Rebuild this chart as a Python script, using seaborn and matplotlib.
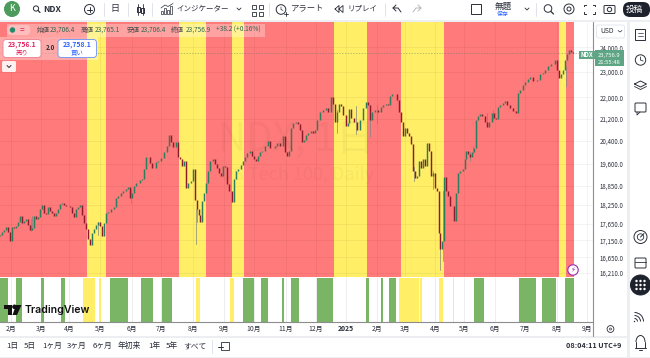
import matplotlib
matplotlib.use('Agg')
import matplotlib.pyplot as plt
from matplotlib.patches import Rectangle, Circle, FancyBboxPatch
import pandas as pd
import seaborn as sns

# x unit is days counted from the first February tick
bar_day = [-11,-9,-7,-5,-3,-1,1,3,5,7,9,11,13,15,17,19,21,23,25,27,29,31,33,35,37,39,41,43,45,47,49,51,53,55,57,59,61,63,65,67,69,71,73,75,77,79,81,83,85,87,89,91,93,95,97,100,103,105,107,110,112,115,117,119,121,123,125,129,131,133,135,137,139,141,143,145,147,150,153,156,158,160,162,165,167,169,171,173,175,177,180,182,184,186,188,189,191,193,195,197,199,202,204,206,208,210,212,214,216,218,221,223,225,227,230,232,234,236,239,241,243,245,247,249,251,254,257,259,262,264,266,269,272,274,276,278,280,282,285,287,289,291,293,295,297,300,302,304,306,309,312,315,317,320,322,324,326,328,330,332,335,337,338,340,343,346,349,352,355,357,359,361,364,367,370,372,375,377,379,381,384,386,388,390,392,394,396,398,400,402,404,406,408,410,412,414,416,418,420,422,424,426,428,429,431,433,435,437,439,441,443,445,447,449,452,454,455,457,459,461,463,465,467,469,471,474,476,478,481,483,485,487,489,492,494,496,499,502,505,507,509,512,514,517,519,522,526,529,532,534,537,540,544,546,548,550,552,554,556,558,560,562]
bar_close = [17315,17405,17465,17558,17405,17133,17558,17527,17590,17712,17899,17680,17743,17805,17620,17465,17527,17899,17805,17868,18119,18247,17993,17962,18183,18056,17993,17899,17993,18119,18279,18290,18247,18215,18200,18183,17993,17868,18119,18183,18247,17930,17680,17496,17193,17015,17375,17496,17620,17712,17590,17285,17680,17993,18025,18119,18183,18472,18537,18634,18699,18765,18830,18472,18634,18863,18963,19062,19095,19430,19843,19843,19637,19466,19440,19672,19706,19810,19984,20199,20587,20337,20164,20337,19843,19775,19533,19706,18798,18963,19029,19430,18408,18119,17930,17712,18375,18634,18963,19364,19706,19775,19602,19466,19298,19197,19533,19500,18930,18699,18343,19095,19364,19430,19568,19706,19843,19949,20053,19879,19775,19706,19879,19984,20053,20199,20384,20124,20124,20199,20310,20199,20550,19984,19879,20053,20840,21021,21060,20983,20768,20337,20407,20587,20660,20731,20660,20768,21134,21430,21507,21583,21430,22004,21738,21060,21430,21738,21660,21320,20945,21021,21545,21208,21060,20768,21134,21583,21810,21700,21134,21430,21507,21430,21622,21700,21738,21700,22043,22120,22120,21887,21430,21060,20550,20840,20660,20550,20264,19364,19130,19197,19706,19466,19775,19533,20310,20053,19197,19298,18798,18699,17375,16895,17133,19162,18699,18537,18215,18215,17743,18634,19298,19364,19430,19775,20053,19914,19843,19984,20124,21134,21282,21353,21282,21060,20877,21060,21392,21208,21170,21622,21700,21776,21849,21700,21583,21468,21392,22158,22273,22470,22588,22706,22785,22627,22666,22906,22946,23066,23226,23307,23473,23066,22746,22906,23066,23473,23716,23887,23810,23757]
first_open = 17280

# the longer shadows that stand out from the bodies
wick_day = [20,21,87,120,185,186,326,345,359,366,403,422,429,432,459,462,476,482,555]
wick_low = [17440,17450,17300,18310,17040,17700,20670,20620,20520,21050,19000,18760,16300,16540,19700,19950,20930,21150,22450]
wick_high = [17800,17900,17720,18740,18100,18300,21500,21660,21700,21700,19500,19340,17300,18700,20000,20200,21400,21500,23200]

month_day = [0,30,58,89,121,150,182,213,243,275,305,335,366,394,424,453,484,514,546,576]
month_label = ['2月','3月','4月','5月','6月','7月','8月','9月','10月','11月','12月','2025','2月','3月','4月','5月','6月','7月','8月','9月']
price_tick = [24000,23000,22000,21200,20400,19600,18850,18250,17650,17150,16650,16210]

yellow_start = [76.3,168,220.7,323,390,548]
yellow_end = [95,195,233,356,433.3,554.7]
red_start = -11
red_end = 563

signal_green_start = [-11,4.7,30,50,99,130,151.3,231.7,250,271.3,280,305.7,354.7,370.3,378.3,463,508.3,531.3,553.7]
signal_green_end = [-2.7,11.3,33,54,117,142.3,161,243,257,273,288,321.7,358.3,371.7,385.3,473,525,544.7,563.3]
signal_yellow_start = [72,88,185,219,388,409,428,442.3]
signal_yellow_end = [83.7,90.3,189,223,408,410.7,432,443.3]

RED = '#ff7a7a'
YELLOW = '#ffee66'
GREEN = '#79b565'
UP = '#2c7d5c'
DOWN = '#8c1c2c'
INK = '#2a2e39'

sns.set_theme(style='white')
plt.rcParams['font.family'] = ['Noto Sans CJK JP', 'DejaVu Sans']

W, H = 650, 358
fig = plt.figure(figsize=(W / 100, H / 100), dpi=100, facecolor='white')
ax = fig.add_axes([0, (H - 277) / H, 593 / W, 255 / H])
strip = fig.add_axes([0, (H - 322) / H, 593 / W, 44 / H], sharex=ax)

# regime background
ax.axvspan(red_start, red_end, color=RED, lw=0, zorder=0)
for a, b in zip(yellow_start, yellow_end):
    ax.axvspan(a, b, color=YELLOW, lw=0, zorder=0.5)

opens = [first_open] + bar_close[:-1]
rows = []
for i, (d, o, c) in enumerate(zip(bar_day, opens, bar_close)):
    side = 'up' if c >= o else 'down'
    rows.append({'bar': i, 'day': d, 'price': o, 'side': side})
    rows.append({'bar': i, 'day': d, 'price': c, 'side': side})
candles = pd.DataFrame(rows)

wicks = pd.DataFrame({'bar': list(range(len(wick_day))) * 2, 'day': wick_day * 2,
                      'price': wick_low + wick_high})

sns.lineplot(data=wicks, x='day', y='price', units='bar', estimator=None, color='#7d8580',
             alpha=0.7, lw=0.7, ax=ax, zorder=3, legend=False)
sns.lineplot(data=candles, x='day', y='price', units='bar', hue='side', estimator=None,
             palette={'up': UP, 'down': DOWN}, lw=1.05, ax=ax, zorder=4, legend=False,
             solid_capstyle='butt')

ax.set_yscale('log')
ax.set_xlim(-11, 582)
ax.set_ylim(16089, 25081)
ax.minorticks_off()
ax.set_yticks(price_tick)
ax.set_yticklabels([f'{p:,.1f}' for p in price_tick], fontsize=4.4, color=INK)
ax.yaxis.tick_right()
ax.tick_params(axis='y', length=0, pad=4.5)
ax.tick_params(axis='x', length=0, labelbottom=False)
ax.set_xticks(month_day)
ax.set_xlabel('')
ax.set_ylabel('')
ax.grid(True, color='#000000', alpha=0.045, lw=0.7, zorder=1)
ax.set_axisbelow(True)
for s in ax.spines.values():
    s.set_visible(False)
ax.axhline(23757, color='#5c7a66', lw=0.5, ls=(0, (2, 2)), alpha=0.6, zorder=2)
ax.text(0.5, 0.537, 'NDX, 1日', transform=ax.transAxes, ha='center', va='center', fontsize=28,
        color='black', alpha=0.03, zorder=2)
ax.text(0.5, 0.40, 'US Tech 100, Daily', transform=ax.transAxes, ha='center', va='center',
        fontsize=13, color='black', alpha=0.03, zorder=2)

# signal strip
for a, b in zip(signal_green_start, signal_green_end):
    strip.axvspan(a, b, color=GREEN, lw=0, zorder=2)
for a, b in zip(signal_yellow_start, signal_yellow_end):
    strip.axvspan(a, b, color=YELLOW, lw=0, zorder=2)
strip.set_ylim(0, 1)
strip.set_yticks([])
strip.set_xticks(month_day)
strip.set_xticklabels(month_label, fontsize=4.9, color=INK)
strip.get_xticklabels()[11].set_fontweight('bold')
strip.tick_params(axis='x', length=0, pad=2.2, labelbottom=True)
strip.grid(True, axis='x', color='#000000', alpha=0.07, lw=0.7, zorder=1)
strip.set_axisbelow(True)
for s in strip.spines.values():
    s.set_visible(False)
strip.spines['bottom'].set_visible(True)
strip.spines['bottom'].set_color('#8d8d8d')
strip.spines['bottom'].set_linewidth(0.8)

# screen furniture in pixel coordinates
ui = fig.add_axes([0, 0, 1, 1], zorder=10)
ui.set_xlim(0, W)
ui.set_ylim(H, 0)
ui.axis('off')
ui.patch.set_alpha(0)


def label(x, y, s, size=6, color=INK, ha='left', weight='normal'):
    ui.text(x, y, s, fontsize=size, color=color, ha=ha, va='center', fontweight=weight)


def box(x0, y0, x1, y1, fc, ec='none', lw=0.7, alpha=1, round_=0):
    if round_:
        p = FancyBboxPatch((x0 + round_, y0 + round_), x1 - x0 - 2 * round_, y1 - y0 - 2 * round_,
                           boxstyle=f'round,pad={round_}', fc=fc, ec=ec, lw=lw, alpha=alpha)
    else:
        p = Rectangle((x0, y0), x1 - x0, y1 - y0, fc=fc, ec=ec, lw=lw, alpha=alpha)
    ui.add_patch(p)


def ring(x, y, r, ec=INK, fc='none', lw=0.7):
    ui.add_patch(Circle((x, y), r, fc=fc, ec=ec, lw=lw))


def seg(xs, ys, color=INK, lw=0.7):
    ui.plot(xs, ys, color=color, lw=lw, solid_capstyle='round')


# frame gaps
GAP = '#eceef2'
box(0, 19.5, W, 22, GAP)
box(0, 335.5, 627, 337.5, GAP)
box(0, 356.5, W, 358, GAP)
box(627, 20, 630, H, GAP)
seg([593, 593], [22, 335.5], color='#8f8f8f', lw=0.8)

# top bar
ring(12, 9, 7.5, ec='#4c9a5c', fc='#4c9a5c')
label(12, 8.6, 'K', 6.5, 'white', 'center')
ring(36, 8.5, 2.6)
seg([38, 40], [10.5, 12.5], lw=0.9)
label(43, 9, 'NDX', 6.2, INK, weight='bold')
ring(89.5, 9.5, 5)
seg([87, 92], [9.5, 9.5])
seg([89.5, 89.5], [7, 12])
seg([103.5, 103.5], [3, 16], color='#e0e3eb')
label(115, 8.5, '日', 6.5, ha='center')
seg([128, 128], [3, 16], color='#e0e3eb')
seg([138, 138], [4, 15], lw=0.6)
box(136.5, 6.5, 139.5, 12, 'white', INK)
seg([142.5, 142.5], [4, 15], lw=0.6)
box(141, 7.5, 144, 12.5, 'white', INK)
seg([152, 152], [3, 16], color='#e0e3eb')
for x0, h in [(161, 3), (164, 6), (167, 4), (170, 8)]:
    box(x0, 14 - h, x0 + 2, 14, 'white', INK, 0.5)
seg([161, 165, 168, 173], [8, 5, 6.5, 3.5], lw=0.5)
label(176, 8.5, 'インジケーター', 5.4)
seg([237, 239, 241], [8, 10, 8], lw=0.6)
for gx in (252, 258.5):
    for gy in (5, 11.5):
        box(gx, gy, gx + 4, gy + 4, 'white', INK, 0.6)
seg([269, 269], [3, 16], color='#e0e3eb')
ring(281, 9.5, 4.8)
seg([281, 281, 283], [7, 9.5, 10.5], lw=0.5)
seg([284, 288], [14, 14], lw=0.6)
seg([286, 286], [12, 16], lw=0.6)
label(291, 8.5, 'アラート', 6)
seg([335, 339, 339, 335], [9, 5.5, 12.5, 9], lw=0.6)
seg([339, 343, 343, 339], [9, 5.5, 12.5, 9], lw=0.6)
label(347, 8.5, 'リプレイ', 5.4)
seg([384.5, 384.5], [3, 16], color='#e0e3eb')
seg([401, 398, 393, 396], [12, 8, 8, 5], lw=0.7)
seg([393, 396], [8, 11], lw=0.7)
seg([413, 416, 421, 418], [12, 8, 8, 5], color='#b2b5be')
seg([421, 418], [8, 11], color='#b2b5be')
box(470.5, 4, 481, 14, 'white', INK, 0.7)
label(503, 6, '無題', 6.2, ha='center')
label(503, 14.5, '保存', 4.2, '#2962ff', 'center')
seg([525, 527, 529], [8, 10, 8], lw=0.6)
seg([536, 536], [3, 16], color='#e0e3eb')
ring(548, 8.5, 3.8)
seg([551, 553.5], [11.5, 14], lw=0.9)
ring(569, 9, 5)
ring(569, 9, 2)
box(584, 4.5, 595, 14, 'white', INK, 0.7)
box(586.5, 3, 592.5, 15.5, 'white', 'none')
box(583, 7, 596, 11.5, 'white', 'none')
box(604, 5.5, 615, 13.5, 'white', INK, 0.7, round_=1)
ring(609.5, 9.5, 2.2)
box(623, 2, 650, 17, '#1e222d', round_=7)
label(634, 9, '投稿', 6.2, 'white', 'center')

# legend on the chart
box(7, 24, 265, 37, 'white', alpha=0.3)
box(0, 37, 98, 60, 'white', alpha=0.35)
box(7, 25, 30, 35, 'white', alpha=0.3, round_=4)
ring(12.5, 30, 2.2, ec='#1f8a6a', fc='#1f8a6a')
label(22, 29.6, '=', 6, '#e0245e', 'center')
legend_parts = [(37, '始値', '#4a4a4a'), (50, '23,706.4', '#2f6650'), (81, '高値', '#4a4a4a'), (95, '23,765.1', '#2f6650'),
                (127, '安値', '#4a4a4a'), (141, '23,706.4', '#2f6650'), (171, '終値', '#4a4a4a'), (186, '23,756.9', '#2f6650'),
                (216, '+38.2 (+0.16%)', '#2f6650')]
for x, s, c in legend_parts:
    label(x, 30, s, 4.7, c)
box(3, 39.5, 41, 57.5, 'white', '#f08a98', 0.7, round_=3)
label(22, 45, '23,756.1', 4.9, '#e0245e', 'center', 'bold')
label(22, 52.5, '売り', 4.6, '#e0245e', 'center')
label(50, 48, '2.0', 4.4, INK, 'center', 'bold')
box(58, 39.5, 96.5, 57.5, 'white', '#7f9cf0', 0.7, round_=3)
label(77, 45, '23,758.1', 4.9, '#2962ff', 'center', 'bold')
label(77, 52.5, '買い', 4.6, '#2962ff', 'center')
box(2, 61, 16, 72, '#fff0f0', round_=1.5)
seg([7, 9, 11], [65.5, 67.5, 65.5], lw=0.7)

# price scale extras
box(596.5, 25, 624.5, 38, 'white', '#e0e3eb', 0.6, round_=2)
label(600, 31, 'USD', 4.9)
seg([618, 620, 622], [30.5, 32, 30.5], lw=0.5)
box(579, 50.5, 595, 58.5, '#5ea585')
label(587, 54.4, 'NDX', 4.4, 'white', 'center', 'bold')
box(595, 50, 624, 66, '#5ea585')
label(609.5, 55, '23,756.9', 4.2, 'white', 'center')
label(609.5, 62.5, '21:55:48', 4.2, 'white', 'center')
ring(573, 270, 5.2, ec='#9c27b0', fc='white', lw=0.8)
label(573, 270, '⚡', 5, '#9c27b0', 'center')

# TradingView logo
box(4, 305, 12, 308.5, '#111111')
box(8, 305, 12, 315, '#111111')
ring(14.5, 306.8, 1.8, ec='#111111', fc='#111111')
ui.fill([16, 21.5, 17, 12.5], [305, 305, 315, 315], color='#111111', lw=0)
ui.text(24.5, 310, 'TradingView', fontsize=7.6, family='Inter', fontweight='semibold', color='#111111',
        ha='left', va='center')

# range selector
range_x = [6, 24, 42, 67, 93, 118, 148, 166, 183]
range_label = ['1日', '5日', '1ヶ月', '3ヶ月', '6ヶ月', '年初来', '1年', '5年', 'すべて']
for x, s in zip(range_x, range_label):
    label(x, 346, s, 5.6)
seg([211.5, 211.5], [340, 353], color='#e0e3eb')
box(220.5, 342, 229, 350, 'white', INK, 0.6)
seg([218, 223], [347, 347], lw=0.7)
label(621, 346, '08:04:11 UTC+9', 5.2, INK, 'right', 'bold')
ring(610.5, 329, 3.4, lw=0.6)
ring(610.5, 329, 1, lw=0.5)

# right toolbar
box(635, 29, 645, 40, 'white', INK, 0.7)
seg([637.5, 642.5], [32.5, 32.5], lw=0.5)
seg([637.5, 642.5], [35.5, 35.5], lw=0.5)
ring(640.5, 60, 5.2)
seg([640.5, 640.5, 643], [57, 60, 61], lw=0.6)
seg([634.5, 640.5, 646.5, 640.5, 634.5], [84, 81, 84, 87, 84], lw=0.7)
seg([634.5, 640.5, 646.5], [86.5, 89.5, 86.5], lw=0.6)
box(635, 103, 646, 112, 'white', INK, 0.7, round_=1)
seg([637, 637, 640], [112, 115, 112], lw=0.6)
ring(640.5, 237, 6.5)
ring(640.5, 237, 3.2, lw=0.6)
seg([640.5, 644], [237, 233.5], lw=0.7)
box(635, 258, 646, 268, 'white', INK, 0.7, round_=1)
seg([635, 646], [261.5, 261.5], lw=0.6)
ring(640.5, 285, 10, ec='#1e222d', fc='#1e222d')
for gx in (636.5, 640.5, 644.5):
    for gy in (281, 285, 289):
        ring(gx, gy, 1.2, ec='white', fc='white', lw=0)
for r in (3, 6, 9):
    ui.add_patch(matplotlib.patches.Arc((634.5, 321.5), 2 * r, 2 * r, theta1=270, theta2=360, ec=INK, lw=0.7))
ring(634.5, 321.5, 0.7, ec=INK, fc=INK, lw=0)
ui.add_patch(matplotlib.patches.Arc((640.5, 342), 9, 13, theta1=180, theta2=360, ec=INK, lw=0.7))
seg([635, 646], [347.5, 347.5])
seg([636, 636], [342, 347.5])
seg([645, 645], [342, 347.5])
seg([639, 642], [350, 350])

plt.savefig('out.png', dpi=100, facecolor='white')
